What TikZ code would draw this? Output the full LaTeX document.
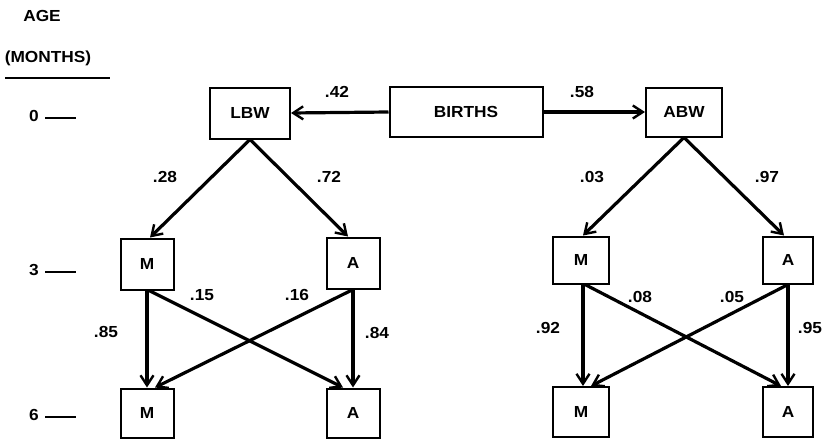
\documentclass[tikz,border=0pt]{standalone}
\usepackage{fontspec}
\setmainfont{Liberation Sans}[FakeStretch=1.08]
\usetikzlibrary{arrows.meta}
\begin{document}
\begin{tikzpicture}[x=1pt,y=-1pt,
  every node/.style={font=\fontsize{16}{18}\selectfont\bfseries},
  bx/.style={draw,line width=2pt,minimum width=#1,minimum height=51pt,inner sep=0pt},
  bx/.default=54pt,
  arr/.style={line width=3.2pt,-{Straight Barb[length=10pt,width=13pt,line width=2.4pt]}},
  lbl/.style={inner sep=0pt},
  tick/.style={line width=1.8pt}]
\useasboundingbox (0,0) rectangle (825,439);
% age axis
\node[lbl] (age) at (42,16) {AGE};
\node[lbl] (months) at (48,58) {(MONTHS)};
\coordinate (ul1) at (5,78); \coordinate (ul2) at (110,78);
\draw[line width=2pt] (ul1) -- (ul2);
\node[lbl] (t0) at (34,116) {0};
\node[lbl] (t3) at (34,270) {3};
\node[lbl] (t6) at (34,415) {6};
\coordinate (d0a) at (45,118); \coordinate (d0b) at (76,118);
\coordinate (d3a) at (45,272); \coordinate (d3b) at (76,272);
\coordinate (d6a) at (45,417); \coordinate (d6b) at (76,417);
\draw[tick] (d0a) -- (d0b);
\draw[tick] (d3a) -- (d3b);
\draw[tick] (d6a) -- (d6b);
% top row
\node[bx=80pt] (lbw) at (250,113) {LBW};
\node[bx=153pt,minimum height=50pt] (births) at (466,112) {BIRTHS};
\node[bx=76pt,minimum height=49pt] (abw) at (684,112) {ABW};
% left tree
\node[bx=53pt] (lm3) at (147,264) {M};
\node[bx=53pt] (la3) at (353,263) {A};
\node[bx=53pt,minimum height=49pt] (lm6) at (147,413) {M};
\node[bx=53pt,minimum height=49pt] (la6) at (353,413) {A};
% right tree
\node[bx=56pt,minimum height=47pt] (rm3) at (581,260) {M};
\node[bx=50pt,minimum height=47pt] (ra3) at (788,260) {A};
\node[bx=56pt,minimum height=50pt] (rm6) at (581,412) {M};
\node[bx=50pt,minimum height=50pt] (ra6) at (788,412) {A};
% arrows top
\draw[arr] (births.west) -- (lbw.east);
\draw[arr] (births.east) -- (abw.west);
\node[lbl] (p42) at (337,92) {.42};
\node[lbl] (p58) at (582,92) {.58};
% left tree arrows
\draw[arr] (lbw.south) -- ([xshift=3pt]lm3.north);
\draw[arr] (lbw.south) -- ([xshift=-5pt]la3.north);
\node[lbl] (p28) at (165,177) {.28};
\node[lbl] (p72) at (329,177) {.72};
\draw[arr] (lm3.south) -- (lm6.north);
\draw[arr] (la3.south) -- (la6.north);
\draw[arr] ([xshift=2pt]lm3.south) -- ([xshift=-10pt]la6.north);
\draw[arr] (la3.south) -- ([xshift=8pt]lm6.north);
\node[lbl] (p15) at (202,295) {.15};
\node[lbl] (p16) at (297,295) {.16};
\node[lbl] (p85) at (106,332) {.85};
\node[lbl] (p84) at (377,333) {.84};
% right tree arrows
\draw[arr] (abw.south) -- ([xshift=2pt]rm3.north);
\draw[arr] (abw.south) -- ([xshift=-4pt]ra3.north);
\node[lbl] (p03) at (592,177) {.03};
\node[lbl] (p97) at (767,177) {.97};
\draw[arr] ([xshift=2pt]rm3.south) -- ([xshift=2pt]rm6.north);
\draw[arr] (ra3.south) -- (ra6.north);
\draw[arr] ([xshift=4pt]rm3.south) -- ([xshift=-7pt]ra6.north);
\draw[arr] (ra3.south) -- ([xshift=10pt]rm6.north);
\node[lbl] (p08) at (640,297) {.08};
\node[lbl] (p05) at (732,297) {.05};
\node[lbl] (p92) at (548,328) {.92};
\node[lbl] (p95) at (810,328) {.95};
\end{tikzpicture}
\end{document}
